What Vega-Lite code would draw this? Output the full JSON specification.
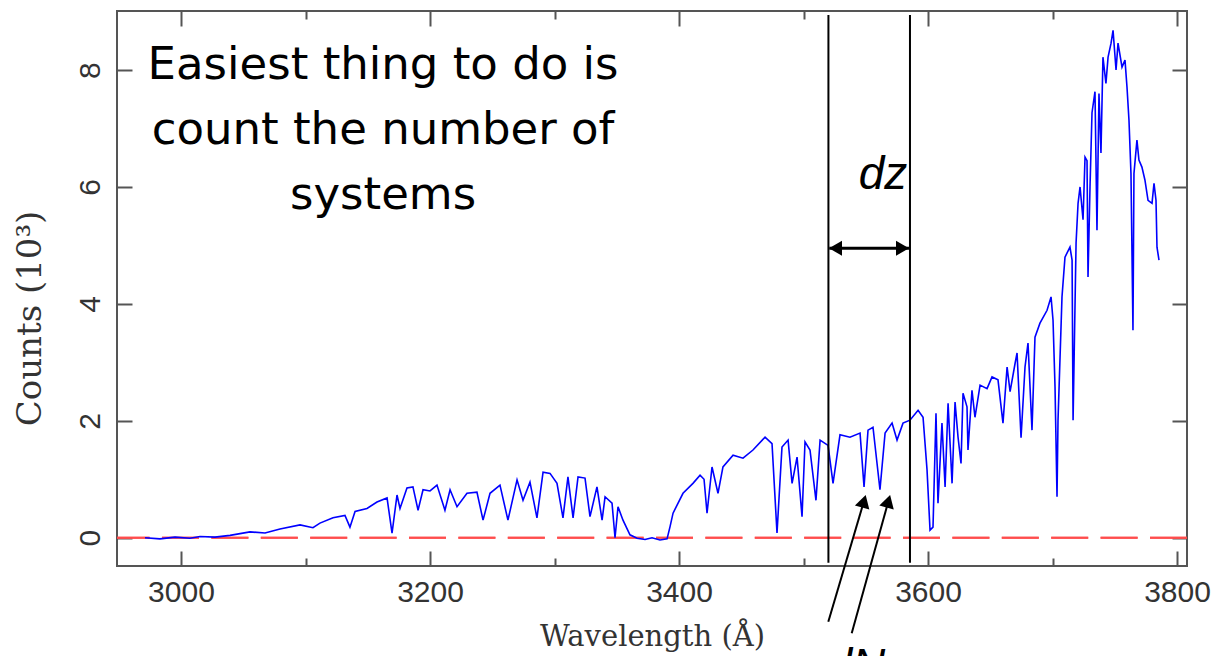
{
  "$schema": "https://vega.github.io/schema/vega-lite/v6.json",
  "autosize": "none",
  "width": 1070,
  "height": 555,
  "padding": {"left": 117, "top": 11, "right": 28, "bottom": 90},
  "background": "white",
  "config": {
    "view": {"stroke": "#555", "strokeWidth": 2},
    "axis": {
      "domain": false, "grid": false, "tickColor": "#555", "tickWidth": 2,
      "labelFont": "Liberation Sans", "labelFontSize": 30, "labelColor": "#333",
      "titleFont": "DejaVu Serif", "titleFontSize": 29, "titleFontWeight": "normal", "titleColor": "#333"
    }
  },
  "datasets": {
    "spectrum": [
      {"w": 2971.1, "c": 0.0}, {"w": 2983.1, "c": -0.02}, {"w": 2995.2, "c": 0.01}, {"w": 3007.2, "c": -0.01},
      {"w": 3015.3, "c": 0.02}, {"w": 3027.3, "c": 0.01}, {"w": 3039.4, "c": 0.04}, {"w": 3055.4, "c": 0.1},
      {"w": 3067.5, "c": 0.08}, {"w": 3079.5, "c": 0.15}, {"w": 3095.6, "c": 0.22}, {"w": 3106.0, "c": 0.17},
      {"w": 3111.6, "c": 0.25}, {"w": 3122.1, "c": 0.34}, {"w": 3131.7, "c": 0.38}, {"w": 3135.7, "c": 0.18},
      {"w": 3139.8, "c": 0.45}, {"w": 3149.4, "c": 0.5}, {"w": 3157.4, "c": 0.61}, {"w": 3165.5, "c": 0.68},
      {"w": 3169.5, "c": 0.08}, {"w": 3173.5, "c": 0.73}, {"w": 3175.9, "c": 0.5}, {"w": 3181.5, "c": 0.85},
      {"w": 3186.3, "c": 0.87}, {"w": 3190.4, "c": 0.47}, {"w": 3194.4, "c": 0.82}, {"w": 3200.0, "c": 0.8},
      {"w": 3205.6, "c": 0.9}, {"w": 3212.0, "c": 0.47}, {"w": 3216.1, "c": 0.82}, {"w": 3221.7, "c": 0.53},
      {"w": 3229.7, "c": 0.76}, {"w": 3237.7, "c": 0.78}, {"w": 3242.6, "c": 0.3}, {"w": 3248.2, "c": 0.76},
      {"w": 3256.2, "c": 0.9}, {"w": 3262.6, "c": 0.3}, {"w": 3269.9, "c": 0.99}, {"w": 3274.7, "c": 0.64},
      {"w": 3280.3, "c": 0.95}, {"w": 3285.9, "c": 0.34}, {"w": 3290.8, "c": 1.12}, {"w": 3296.4, "c": 1.1},
      {"w": 3302.0, "c": 0.93}, {"w": 3306.8, "c": 0.34}, {"w": 3310.8, "c": 1.04}, {"w": 3314.9, "c": 0.34},
      {"w": 3318.9, "c": 1.04}, {"w": 3324.5, "c": 1.02}, {"w": 3328.5, "c": 0.36}, {"w": 3334.1, "c": 0.87},
      {"w": 3338.2, "c": 0.3}, {"w": 3340.6, "c": 0.7}, {"w": 3346.2, "c": 0.59}, {"w": 3348.6, "c": 0.0},
      {"w": 3351.0, "c": 0.53}, {"w": 3355.0, "c": 0.3}, {"w": 3360.6, "c": 0.05}, {"w": 3366.3, "c": -0.01},
      {"w": 3372.7, "c": -0.03}, {"w": 3378.3, "c": 0.0}, {"w": 3384.7, "c": -0.04}, {"w": 3390.4, "c": -0.02},
      {"w": 3392.8, "c": 0.19}, {"w": 3395.2, "c": 0.42}, {"w": 3403.2, "c": 0.76}, {"w": 3411.2, "c": 0.93},
      {"w": 3416.9, "c": 1.07}, {"w": 3420.1, "c": 1.0}, {"w": 3422.5, "c": 0.42}, {"w": 3426.5, "c": 1.21},
      {"w": 3431.3, "c": 0.76}, {"w": 3435.3, "c": 1.21}, {"w": 3443.4, "c": 1.41}, {"w": 3451.4, "c": 1.36},
      {"w": 3459.4, "c": 1.5}, {"w": 3469.1, "c": 1.72}, {"w": 3474.7, "c": 1.61}, {"w": 3478.7, "c": 0.08},
      {"w": 3482.7, "c": 1.55}, {"w": 3487.6, "c": 1.67}, {"w": 3490.8, "c": 0.93}, {"w": 3494.8, "c": 1.38},
      {"w": 3498.8, "c": 0.36}, {"w": 3501.2, "c": 1.64}, {"w": 3505.2, "c": 1.5}, {"w": 3510.0, "c": 0.64},
      {"w": 3513.3, "c": 1.67}, {"w": 3519.7, "c": 1.58}, {"w": 3523.7, "c": 0.93}, {"w": 3529.3, "c": 1.76},
      {"w": 3537.3, "c": 1.72}, {"w": 3545.4, "c": 1.79}, {"w": 3548.6, "c": 0.87}, {"w": 3551.8, "c": 1.84},
      {"w": 3555.8, "c": 1.89}, {"w": 3561.4, "c": 0.82}, {"w": 3565.5, "c": 1.79}, {"w": 3571.1, "c": 1.96},
      {"w": 3575.1, "c": 1.67}, {"w": 3579.9, "c": 1.96}, {"w": 3585.5, "c": 2.01}, {"w": 3592.0, "c": 2.18},
      {"w": 3596.0, "c": 2.06}, {"w": 3599.2, "c": 1.16}, {"w": 3601.6, "c": 0.13}, {"w": 3604.0, "c": 0.18},
      {"w": 3606.4, "c": 2.13}, {"w": 3608.0, "c": 0.59}, {"w": 3611.2, "c": 1.96}, {"w": 3613.7, "c": 0.87},
      {"w": 3616.1, "c": 2.3}, {"w": 3619.3, "c": 0.93}, {"w": 3621.7, "c": 2.32}, {"w": 3624.1, "c": 1.72},
      {"w": 3626.5, "c": 1.27}, {"w": 3628.1, "c": 2.47}, {"w": 3631.3, "c": 2.24}, {"w": 3632.1, "c": 1.5},
      {"w": 3635.3, "c": 2.52}, {"w": 3637.7, "c": 2.06}, {"w": 3641.8, "c": 2.61}, {"w": 3647.4, "c": 2.55},
      {"w": 3651.4, "c": 2.75}, {"w": 3656.2, "c": 2.7}, {"w": 3660.2, "c": 1.96}, {"w": 3663.5, "c": 2.92},
      {"w": 3665.9, "c": 2.5}, {"w": 3669.9, "c": 2.98}, {"w": 3671.5, "c": 3.16}, {"w": 3674.7, "c": 1.71},
      {"w": 3677.9, "c": 2.92}, {"w": 3680.3, "c": 3.33}, {"w": 3683.5, "c": 1.84}, {"w": 3685.9, "c": 3.43},
      {"w": 3689.9, "c": 3.67}, {"w": 3695.6, "c": 3.89}, {"w": 3698.8, "c": 4.12}, {"w": 3700.4, "c": 3.72},
      {"w": 3702.0, "c": 2.58}, {"w": 3703.6, "c": 0.7}, {"w": 3704.4, "c": 2.01}, {"w": 3707.6, "c": 4.12},
      {"w": 3710.0, "c": 4.8}, {"w": 3714.0, "c": 4.97}, {"w": 3715.7, "c": 4.75}, {"w": 3716.5, "c": 2.01},
      {"w": 3718.9, "c": 5.04}, {"w": 3720.5, "c": 5.72}, {"w": 3722.1, "c": 6.0}, {"w": 3724.5, "c": 5.44},
      {"w": 3726.1, "c": 6.51}, {"w": 3727.7, "c": 6.45}, {"w": 3728.5, "c": 4.46}, {"w": 3730.1, "c": 6.0},
      {"w": 3731.7, "c": 7.27}, {"w": 3734.1, "c": 7.63}, {"w": 3735.7, "c": 5.26}, {"w": 3737.3, "c": 7.6},
      {"w": 3738.9, "c": 6.58}, {"w": 3740.5, "c": 8.22}, {"w": 3742.9, "c": 7.77}, {"w": 3744.6, "c": 8.22},
      {"w": 3747.0, "c": 8.46}, {"w": 3748.6, "c": 8.68}, {"w": 3751.0, "c": 8.0}, {"w": 3752.6, "c": 8.46},
      {"w": 3755.8, "c": 8.05}, {"w": 3758.2, "c": 8.17}, {"w": 3759.8, "c": 7.71}, {"w": 3761.4, "c": 7.14},
      {"w": 3763.0, "c": 6.23}, {"w": 3764.6, "c": 3.55}, {"w": 3765.4, "c": 6.23}, {"w": 3767.8, "c": 6.8},
      {"w": 3769.4, "c": 6.46}, {"w": 3771.8, "c": 6.34}, {"w": 3774.2, "c": 6.12}, {"w": 3776.7, "c": 5.77},
      {"w": 3779.9, "c": 5.72}, {"w": 3781.5, "c": 6.06}, {"w": 3783.1, "c": 5.77}, {"w": 3783.9, "c": 4.97},
      {"w": 3785.5, "c": 4.75}
    ],
    "vlines": [{"w": 3520.0, "c": -0.43, "c2": 8.94}, {"w": 3585.5, "c": -0.43, "c2": 8.94}],
    "dzarrow": [{"w": 3520.7, "w2": 3584.7, "c": 4.95}],
    "dzleft": [{"w": 3525.7, "c": 4.95}],
    "dzright": [{"w": 3579.5, "c": 4.95}],
    "shafts": [
      {"w": 3519.9, "c": -1.437, "w2": 3547.5, "c2": 0.55},
      {"w": 3538.7, "c": -1.635, "w2": 3567.2, "c2": 0.55}
    ],
    "heads": [{"w": 3548.5, "c": 0.624}, {"w": 3568.1, "c": 0.623}],
    "bigtext": [{"w": 3162.3, "c": 8.09, "t": "Easiest thing to do is\ncount the number of\nsystems"}],
    "dz": [{"w": 3563.9, "c": 6.2, "t": "dz"}],
    "dn": [{"w": 3542.0, "c": -1.84, "t": "dN"}]
  },
  "resolve": {"axis": {"x": "independent", "y": "independent"}},
  "layer": [
    {
      "data": {"name": "vlines"},
      "mark": {"type": "rule", "color": "#ff4d4d", "strokeWidth": 2, "strokeDash": [37, 12.4]},
      "encoding": {
        "y": {"datum": 0, "type": "quantitative", "scale": {"domain": [-0.484, 9.01], "nice": false, "zero": false}, "axis": null}
      }
    },
    {
      "data": {"name": "spectrum"},
      "mark": {"type": "line", "color": "#0000ff", "strokeWidth": 1.6, "clip": true},
      "encoding": {
        "x": {"field": "w", "type": "quantitative", "scale": {"domain": [2948.6, 3808.0], "nice": false, "zero": false},
              "axis": {"orient": "bottom", "values": [3000, 3200, 3400, 3600, 3800], "format": "d", "tickSize": -15, "labelPadding": 26,
                       "title": "Wavelength (Å)", "titleY": 70, "titleBaseline": "middle"}},
        "y": {"field": "c", "type": "quantitative", "scale": {"domain": [-0.484, 9.01], "nice": false, "zero": false},
              "axis": {"orient": "left", "values": [0, 2, 4, 6, 8], "format": "d", "tickSize": -15, "labelPadding": 27, "labelAngle": -90,
                       "labelAlign": "center", "labelBaseline": "bottom",
                       "title": "Counts (10³)", "titleFontSize": 34, "titleX": -87, "titleY": 307, "titleAngle": -90, "titleBaseline": "middle", "titleAlign": "center"}}
      }
    },
    {
      "data": {"name": "vlines"},
      "mark": {"type": "rule", "color": "black", "strokeWidth": 2},
      "encoding": {
        "x": {"field": "w", "type": "quantitative", "scale": {"domain": [2948.6, 3808.0], "nice": false, "zero": false},
              "axis": {"orient": "top", "values": [3000, 3200, 3400, 3600, 3800], "tickSize": -15, "labels": false, "title": null}},
        "y": {"field": "c", "type": "quantitative", "scale": {"domain": [-0.484, 9.01], "nice": false, "zero": false},
              "axis": {"orient": "right", "values": [0, 2, 4, 6, 8], "tickSize": -15, "labels": false, "title": null}},
        "y2": {"field": "c2"}
      }
    },
    {
      "data": {"name": "shafts"},
      "mark": {"type": "rule", "color": "black", "strokeWidth": 2},
      "encoding": {
        "x": {"field": "w", "type": "quantitative", "scale": {"domain": [2948.6, 3808.0], "nice": false, "zero": false},
              "axis": {"orient": "bottom", "values": [3100, 3300, 3500, 3700], "tickSize": -8, "labels": false, "title": null}},
        "y": {"field": "c", "type": "quantitative", "scale": {"domain": [-0.484, 9.01], "nice": false, "zero": false}, "axis": null},
        "x2": {"field": "w2"},
        "y2": {"field": "c2"}
      }
    },
    {
      "data": {"name": "heads"},
      "mark": {"type": "point", "shape": "triangle-up", "filled": true, "color": "black", "opacity": 1, "size": 225, "angle": 16, "strokeWidth": 0},
      "encoding": {
        "x": {"field": "w", "type": "quantitative", "scale": {"domain": [2948.6, 3808.0], "nice": false, "zero": false},
              "axis": {"orient": "top", "values": [3100, 3300, 3500, 3700], "tickSize": -8, "labels": false, "title": null}},
        "y": {"field": "c", "type": "quantitative", "scale": {"domain": [-0.484, 9.01], "nice": false, "zero": false}, "axis": null}
      }
    },
    {
      "data": {"name": "dzarrow"},
      "mark": {"type": "rule", "color": "black", "strokeWidth": 3},
      "encoding": {
        "x": {"field": "w", "type": "quantitative", "scale": {"domain": [2948.6, 3808.0], "nice": false, "zero": false}, "axis": null},
        "x2": {"field": "w2"},
        "y": {"field": "c", "type": "quantitative", "scale": {"domain": [-0.484, 9.01], "nice": false, "zero": false}, "axis": null}
      }
    },
    {
      "data": {"name": "dzleft"},
      "mark": {"type": "point", "shape": "triangle-left", "filled": true, "color": "black", "opacity": 1, "size": 225, "strokeWidth": 0},
      "encoding": {
        "x": {"field": "w", "type": "quantitative", "axis": null},
        "y": {"field": "c", "type": "quantitative", "axis": null}
      }
    },
    {
      "data": {"name": "dzright"},
      "mark": {"type": "point", "shape": "triangle-right", "filled": true, "color": "black", "opacity": 1, "size": 225, "strokeWidth": 0},
      "encoding": {
        "x": {"field": "w", "type": "quantitative", "axis": null},
        "y": {"field": "c", "type": "quantitative", "axis": null}
      }
    },
    {
      "data": {"name": "bigtext"},
      "mark": {"type": "text", "font": "DejaVu Sans", "fontSize": 45, "lineBreak": "\n", "lineHeight": 65, "align": "center", "baseline": "middle", "color": "black"},
      "encoding": {
        "x": {"field": "w", "type": "quantitative", "axis": null},
        "y": {"field": "c", "type": "quantitative", "axis": null},
        "text": {"field": "t"}
      }
    },
    {
      "data": {"name": "dz"},
      "mark": {"type": "text", "font": "Liberation Sans", "fontStyle": "italic", "fontSize": 46, "align": "center", "baseline": "middle", "color": "black"},
      "encoding": {
        "x": {"field": "w", "type": "quantitative", "axis": null},
        "y": {"field": "c", "type": "quantitative", "axis": null},
        "text": {"field": "t"}
      }
    },
    {
      "data": {"name": "dn"},
      "mark": {"type": "text", "font": "Liberation Sans", "fontStyle": "italic", "fontSize": 46, "align": "center", "baseline": "top", "color": "black"},
      "encoding": {
        "x": {"field": "w", "type": "quantitative", "axis": null},
        "y": {"field": "c", "type": "quantitative", "axis": null},
        "text": {"field": "t"}
      }
    }
  ]
}
